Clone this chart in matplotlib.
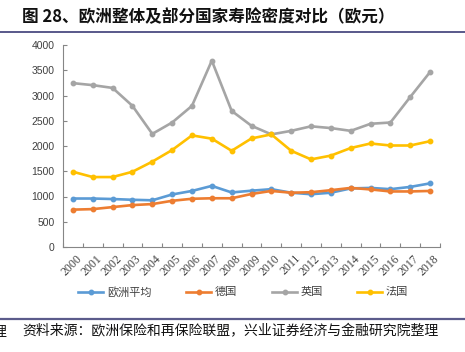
import matplotlib
matplotlib.use("Agg")
import matplotlib.pyplot as plt
from matplotlib.lines import Line2D

plt.rcParams['font.family'] = ['Noto Sans CJK SC', 'DejaVu Sans']

years = [str(y) for y in range(2000, 2019)]
eu_avg = [960, 960, 950, 935, 925, 1040, 1110, 1210, 1080, 1115, 1145,
          1075, 1045, 1075, 1160, 1170, 1145, 1190, 1260]
germany = [740, 750, 790, 830, 850, 915, 955, 965, 965, 1050, 1110,
           1075, 1085, 1125, 1170, 1140, 1100, 1100, 1110]
uk = [3245, 3205, 3150, 2795, 2240, 2465, 2795, 3690, 2695, 2400, 2230,
      2300, 2390, 2355, 2300, 2440, 2465, 2970, 3465]
france = [1490, 1385, 1385, 1490, 1690, 1920, 2210, 2145, 1905, 2150, 2230,
          1905, 1735, 1810, 1960, 2050, 2010, 2010, 2095]

series = [("欧洲平均", eu_avg, "#5B9BD5"),
          ("德国", germany, "#ED7D31"),
          ("英国", uk, "#A5A5A5"),
          ("法国", france, "#FFC000")]

W, H = 465, 352
fig = plt.figure(figsize=(W / 100, H / 100), dpi=100)
ax = fig.add_axes([63 / W, 1 - 247 / H, (440 - 63) / W, (247 - 45) / H])

x = list(range(len(years)))
for name, vals, col in series:
    ax.plot(x, vals, color=col, lw=1.9, marker="o", ms=3.2,
            solid_capstyle="round", label=name)

ax.set_xlim(-0.5, len(years) - 0.5)
ax.set_ylim(0, 4000)
ax.set_yticks(range(0, 4001, 500))
ax.tick_params(axis="y", direction="in", length=3, color="#868686",
               labelsize=7.5, labelcolor="#404040", pad=6)
for lab in ax.get_yticklabels():
    lab.set_family("Liberation Sans")

# x ticks sit on the category boundaries, labels are placed under each year
ax.set_xticks([i - 0.5 for i in range(len(years) + 1)])
ax.set_xticklabels([""] * (len(years) + 1))
ax.tick_params(axis="x", direction="in", length=3, color="#868686")
for i, yr in enumerate(years):
    ax.text(i + 0.15, -110, yr, rotation=45, ha="right", va="top",
            fontsize=8.5, family="Liberation Serif", color="#404040",
            rotation_mode="anchor")

for s in ("top", "right"):
    ax.spines[s].set_visible(False)
for s in ("left", "bottom"):
    ax.spines[s].set_color("#868686")
    ax.spines[s].set_linewidth(0.8)

# legend, drawn as separate entries to match the spacing
leg_x = [78, 186, 272, 357]
for (name, vals, col), lx in zip(series, leg_x):
    fig.add_artist(Line2D([lx / W, (lx + 25) / W], [1 - 292 / H] * 2,
                          color=col, lw=1.9, transform=fig.transFigure))
    fig.add_artist(Line2D([(lx + 12.5) / W], [1 - 292 / H], color=col,
                          marker="o", ms=3.2, transform=fig.transFigure))
    fig.text((lx + 29) / W, 1 - 292 / H, name, fontsize=8, color="#404040",
             va="center", ha="left")

# title and rules
fig.text(22 / W, 1 - 17 / H, "图 28、欧洲整体及部分国家寿险密度对比（欧元）",
         fontsize=12, fontweight="bold", va="center", ha="left", color="#111111")
fig.add_artist(Line2D([0, 1], [1 - 32 / H] * 2, color="#2B2B6B", lw=1.1,
                      transform=fig.transFigure))
fig.add_artist(Line2D([0, 1], [1 - 319 / H] * 2, color="#5B5B8B", lw=1.6,
                      transform=fig.transFigure))
fig.text(22 / W, 1 - 331 / H,
         "资料来源：欧洲保险和再保险联盟，兴业证券经济与金融研究院整理",
         fontsize=10, va="center", ha="left", color="#111111")
fig.text(-7 / W, 1 - 331 / H, "理", fontsize=10, va="center", ha="left",
         color="#111111")

fig.savefig("out.png", dpi=100)
